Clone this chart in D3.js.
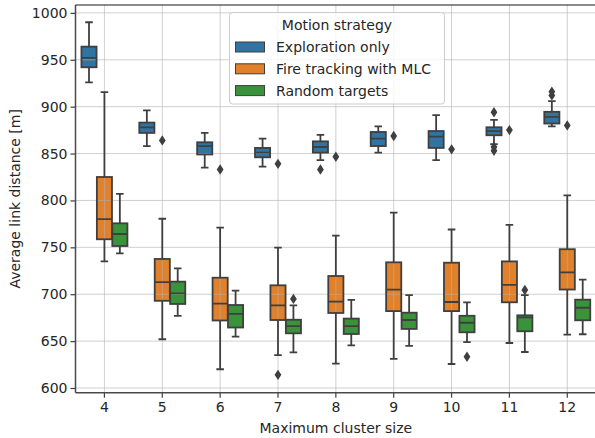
<!DOCTYPE html>
<html>
<head>
<meta charset="utf-8">
<script src="https://cdn.jsdelivr.net/npm/d3@7"></script>
<style>
  html, body { margin: 0; padding: 0; background: #fff; }
  svg { display: block; font-family: "DejaVu Sans", sans-serif; }
</style>
</head>
<body>
<svg id="chart" width="595" height="438"></svg>
<script>
// Maximum cluster size (x categories)
const categories = [4, 5, 6, 7, 8, 9, 10, 11, 12];
const seriesNames = ["Exploration only", "Fire tracking with MLC", "Random targets"];
const seriesColors = ["#3274a1", "#e1812c", "#3a923a"];
const yTicks = [600, 650, 700, 750, 800, 850, 900, 950, 1000];

// Box statistics per series, one entry per category:
// lower whisker, first quartile, median, third quartile, upper whisker
const explorationLow = [926, 858, 835, 836, 843, 851, 843, 860, 879];
const explorationQ1 = [942, 872, 849, 846, 851, 858, 856, 869.5, 882];
const explorationMed = [952, 878, 858, 851, 857, 866, 868, 874, 889];
const explorationQ3 = [964, 883, 862, 856, 863, 873, 874, 878, 894.5];
const explorationHigh = [990, 896, 872, 866, 870, 879, 891, 886, 906];
const explorationOut = [[], [], [], [], [833], [], [], [894, 857, 853], [912, 916]];

const fireLow = [735, 652, 620, 635, 626, 631, 625.6, 648, 657];
const fireQ1 = [758.6, 693, 672, 672.5, 680, 682, 682, 691.4, 705];
const fireMed = [780, 713, 690, 688, 692, 705, 691.7, 710, 723.4];
const fireQ3 = [825, 737.6, 717.6, 709.5, 719.4, 734, 733.6, 735, 748];
const fireHigh = [915.6, 780.5, 771, 749.6, 762.4, 787, 769, 774, 805.5];
const fireOut = [[], [864], [833], [614, 839], [846.6], [868.7], [854.5], [875], [880]];

const randomLow = [743.6, 677, 654.7, 638, 645.5, 645, 649, 638.4, 657.3];
const randomQ1 = [751.4, 689.6, 664.5, 658.3, 657.6, 663, 659.4, 660.5, 672.2];
const randomMed = [764.2, 701, 679, 666, 666, 672.5, 669.6, 675.4, 685.6];
const randomQ3 = [775.6, 713.4, 688.5, 672.8, 674, 680.3, 677, 677.5, 694.2];
const randomHigh = [807, 727.6, 703.8, 688, 694, 699, 691.4, 699, 715.5];
const randomOut = [[], [], [], [695], [], [], [633.4], [704.5], []];

const statsBySeries = [
  [explorationLow, explorationQ1, explorationMed, explorationQ3, explorationHigh, explorationOut],
  [fireLow, fireQ1, fireMed, fireQ3, fireHigh, fireOut],
  [randomLow, randomQ1, randomMed, randomQ3, randomHigh, randomOut]
];

const boxes = [];
statsBySeries.forEach((s, si) => {
  categories.forEach((c, ci) => {
    boxes.push({
      series: seriesNames[si], color: seriesColors[si], cat: c,
      lo: s[0][ci], q1: s[1][ci], med: s[2][ci], q3: s[3][ci], hi: s[4][ci], out: s[5][ci]
    });
  });
});

const svg = d3.select("#chart");
const plot = { left: 75.5, right: 596.2, top: 5, bottom: 392.7 };

const x = d3.scaleBand().domain(categories).range([plot.left, plot.right]).padding(0);
const bw = x.bandwidth();
const hue = d3.scaleBand().domain(seriesNames).range([-0.4 * bw, 0.4 * bw]).padding(0);
const boxW = hue.bandwidth() * 0.98;
const y = d3.scaleLinear().domain([594.99, 1008.4]).range([plot.bottom, plot.top]);

const textColor = "#262626";
const edge = "#3f3f3f";

// clip to the axes area
svg.append("defs").append("clipPath").attr("id", "plotclip")
  .append("rect").attr("x", plot.left).attr("y", plot.top)
  .attr("width", plot.right - plot.left).attr("height", plot.bottom - plot.top);

const boxX = d => x(d.cat) + bw / 2 + hue(d.series) + hue.bandwidth() / 2;

// box fills
const g = svg.append("g").attr("clip-path", "url(#plotclip)");
g.selectAll("rect.fill").data(boxes).join("rect")
  .attr("class", "fill")
  .attr("x", d => boxX(d) - boxW / 2)
  .attr("y", d => y(d.q3))
  .attr("width", boxW)
  .attr("height", d => y(d.q1) - y(d.q3))
  .attr("fill", d => d.color);

// grid lines
const grid = svg.append("g").attr("clip-path", "url(#plotclip)")
  .attr("stroke", "#b0b0b0").attr("stroke-opacity", 0.6).attr("stroke-width", 1);
grid.selectAll("line.h").data(yTicks).join("line")
  .attr("x1", plot.left).attr("x2", plot.right)
  .attr("y1", d => y(d)).attr("y2", d => y(d));
grid.selectAll("line.v").data(categories).join("line")
  .attr("x1", d => x(d) + bw / 2).attr("x2", d => x(d) + bw / 2)
  .attr("y1", plot.top).attr("y2", plot.bottom);

// box outlines, whiskers, caps, medians
const lines = svg.append("g").attr("clip-path", "url(#plotclip)")
  .attr("stroke", edge).attr("stroke-width", 1.8).attr("fill", "none");
boxes.forEach(d => {
  const cx = boxX(d);
  const capW = boxW / 2;
  lines.append("line").attr("x1", cx).attr("x2", cx).attr("y1", y(d.q3)).attr("y2", y(d.hi));
  lines.append("line").attr("x1", cx).attr("x2", cx).attr("y1", y(d.q1)).attr("y2", y(d.lo));
  lines.append("line").attr("x1", cx - capW / 2).attr("x2", cx + capW / 2).attr("y1", y(d.hi)).attr("y2", y(d.hi));
  lines.append("line").attr("x1", cx - capW / 2).attr("x2", cx + capW / 2).attr("y1", y(d.lo)).attr("y2", y(d.lo));
  lines.append("rect").attr("x", cx - boxW / 2).attr("y", y(d.q3))
    .attr("width", boxW).attr("height", y(d.q1) - y(d.q3));
  lines.append("line").attr("x1", cx - boxW / 2).attr("x2", cx + boxW / 2).attr("y1", y(d.med)).attr("y2", y(d.med));
});

// outliers as thin diamonds
const fliers = [];
boxes.forEach(d => d.out.forEach(v => fliers.push({ cx: boxX(d), v })));
svg.append("g").attr("clip-path", "url(#plotclip)")
  .selectAll("path").data(fliers).join("path")
  .attr("d", d => {
    const cy = y(d.v), hw = 3.4, hh = 5.2;
    return `M${d.cx},${cy - hh}L${d.cx + hw},${cy}L${d.cx},${cy + hh}L${d.cx - hw},${cy}Z`;
  })
  .attr("fill", edge);

// axes
const yAxis = svg.append("g").attr("transform", `translate(${plot.left},0)`)
  .call(d3.axisLeft(y).tickValues(yTicks).tickFormat(d3.format("d")).tickSize(5).tickPadding(3));
const xAxis = svg.append("g").attr("transform", `translate(0,${plot.bottom})`)
  .call(d3.axisBottom(x).tickSize(5).tickPadding(4));
[yAxis, xAxis].forEach(a => {
  a.select(".domain").remove();
  a.selectAll(".tick line").attr("stroke", edge).attr("stroke-width", 1.2);
  a.selectAll(".tick text").attr("fill", textColor).style("font-size", "14px")
    .style("font-family", "DejaVu Sans");
});

// spines
svg.append("line").attr("x1", plot.left).attr("x2", plot.left)
  .attr("y1", plot.top).attr("y2", plot.bottom)
  .attr("stroke", "#4a4a4a").attr("stroke-width", 1.5);
svg.append("line").attr("x1", plot.left).attr("x2", plot.right)
  .attr("y1", plot.bottom).attr("y2", plot.bottom)
  .attr("stroke", "#4a4a4a").attr("stroke-width", 1.5);
svg.append("line").attr("x1", plot.left).attr("x2", plot.right)
  .attr("y1", plot.top).attr("y2", plot.top)
  .attr("stroke", "#1a1a1a").attr("stroke-width", 1.2);

// axis titles
svg.append("text").attr("x", (plot.left + plot.right) / 2).attr("y", 433)
  .attr("text-anchor", "middle").attr("fill", textColor).style("font-size", "14px")
  .text("Maximum cluster size");
svg.append("text")
  .attr("transform", `translate(20,${(plot.top + plot.bottom) / 2}) rotate(-90)`)
  .attr("text-anchor", "middle").attr("fill", textColor).style("font-size", "14px")
  .text("Average link distance [m]");

// legend
const lg = svg.append("g").attr("transform", "translate(229.5,12.5)");
lg.append("rect").attr("width", 215).attr("height", 91.5).attr("rx", 3)
  .attr("fill", "#fff").attr("fill-opacity", 0.8)
  .attr("stroke", "#cccccc").attr("stroke-width", 1);
lg.append("text").attr("x", 107.5).attr("y", 17.5).attr("text-anchor", "middle")
  .attr("fill", textColor).style("font-size", "14px").text("Motion strategy");
seriesNames.forEach((name, i) => {
  const cy = 34.5 + i * 21.8;
  lg.append("rect").attr("x", 6).attr("y", cy - 5).attr("width", 29).attr("height", 10)
    .attr("fill", seriesColors[i]).attr("stroke", edge).attr("stroke-width", 1);
  lg.append("text").attr("x", 46.5).attr("y", cy + 5)
    .attr("fill", textColor).style("font-size", "14px").text(name);
});
</script>
</body>
</html>
